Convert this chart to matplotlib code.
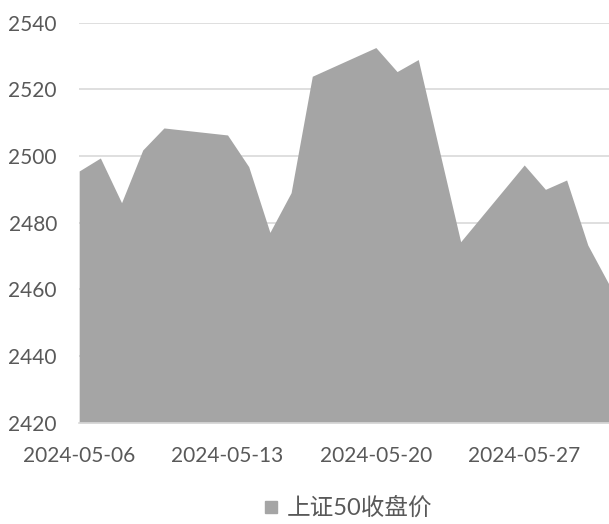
import numpy as np
import pandas as pd
import matplotlib
matplotlib.use('Agg')
import matplotlib.pyplot as plt
import matplotlib.dates as mdates
from matplotlib.lines import Line2D

plt.rcParams['font.family'] = ['Lato', 'Noto Sans CJK SC', 'DejaVu Sans']

# 上证50 收盘价
dates = pd.to_datetime([
    '2024-05-06', '2024-05-07', '2024-05-08', '2024-05-09', '2024-05-10',
    '2024-05-13', '2024-05-14', '2024-05-15', '2024-05-16', '2024-05-17',
    '2024-05-20', '2024-05-21', '2024-05-22', '2024-05-23', '2024-05-24',
    '2024-05-27', '2024-05-28', '2024-05-29', '2024-05-30', '2024-05-31',
])
close = [2495.5, 2499.4, 2486.0, 2501.8, 2508.4,
         2506.3, 2496.8, 2477.1, 2489.0, 2523.9,
         2532.5, 2525.3, 2528.9, 2501.5, 2474.3,
         2497.3, 2490.0, 2492.8, 2473.3, 2461.5]
series_name = '上证50收盘价'
tick_dates = pd.to_datetime(['2024-05-06', '2024-05-13', '2024-05-20', '2024-05-27'])
y_ticks = [2420, 2440, 2460, 2480, 2500, 2520, 2540]

fig = plt.figure(figsize=(6.09, 5.24), dpi=100)
ax = fig.add_axes([0.130, 0.193, 0.870, 0.764])

grey = '#a5a5a5'
ax.fill_between(dates, close, 2420, color=grey, linewidth=0, zorder=2)

ax.set_ylim(2420, 2540)
ax.set_xlim(dates[0], dates[-1])
ax.set_yticks(y_ticks)
ax.set_xticks(tick_dates)
ax.xaxis.set_major_formatter(mdates.DateFormatter('%Y-%m-%d'))

ax.grid(axis='y', color='#d9d9d9', linewidth=1.2, zorder=1)
ax.set_axisbelow(True)
for s in ['top', 'right', 'left']:
    ax.spines[s].set_visible(False)
ax.spines['bottom'].set_color('#d9d9d9')
ax.spines['bottom'].set_linewidth(1.2)
ax.spines['bottom'].set_zorder(3)

ax.tick_params(axis='y', length=0, pad=16, labelsize=15, labelcolor='#595959')
ax.tick_params(axis='x', length=0, pad=17, labelsize=15, labelcolor='#595959')

handle = Line2D([], [], marker='s', color=grey, linestyle='none', markersize=8)
fig.legend([handle], [series_name], loc='center', bbox_to_anchor=(347 / 609, 1 - 508 / 524),
           frameon=False, fontsize=17, labelcolor='#595959', handlelength=0.8,
           handletextpad=0.3, borderaxespad=0)

fig.savefig('out.png', dpi=100)
